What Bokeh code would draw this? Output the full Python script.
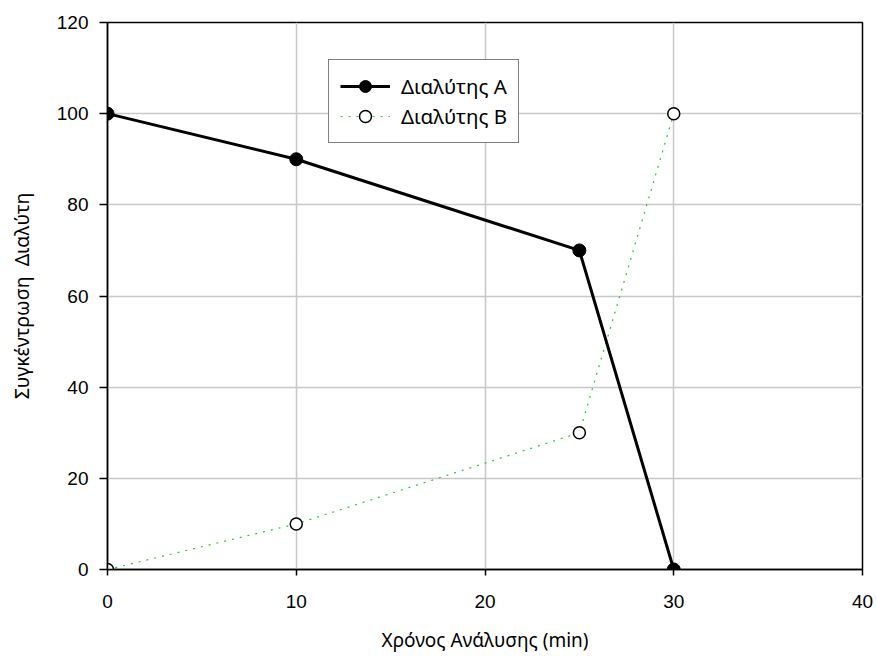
from bokeh.plotting import figure
from bokeh.models import Range1d, FixedTicker, Legend, LegendItem
from bokeh.embed import file_html
from bokeh.resources import INLINE

# Data
time_min = [0, 10, 25, 30]
solvent_a = [100, 90, 70, 0]
solvent_b = [0, 10, 30, 100]
x_ticks = [0, 10, 20, 30, 40]
y_ticks = [0, 20, 40, 60, 80, 100, 120]
label_a = "Διαλύτης A"
label_b = "Διαλύτης B"
x_title = "Χρόνος Ανάλυσης (min)"
y_title = "Συγκέντρωση\u00a0 Διαλύτη"

NUM_FONT = "Liberation Sans"
TXT_FONT = "Noto Sans"

p = figure(width=876, height=661, output_backend="svg", toolbar_location=None,
           x_range=Range1d(0, 40), y_range=Range1d(0, 120),
           min_border_left=107, min_border_right=14, min_border_top=22, min_border_bottom=92)
p.background_fill_color = "white"
p.border_fill_color = "white"
p.outline_line_color = "black"
p.outline_line_width = 1.5

for ax in (p.xaxis[0], p.yaxis[0]):
    ax.axis_line_color = "black"
    ax.axis_line_width = 1.5
    ax.major_tick_line_color = "black"
    ax.major_tick_line_width = 1.5
    ax.major_tick_in = 0
    ax.minor_tick_line_color = None
    ax.major_label_text_font = NUM_FONT
    ax.major_label_text_font_size = "19px"
    ax.major_label_text_color = "black"
    ax.axis_label_text_font = TXT_FONT
    ax.axis_label_text_font_style = "normal"
    ax.axis_label_text_color = "black"

p.xaxis[0].axis_label_text_font_size = "19px"
p.yaxis[0].axis_label_text_font_size = "19.5px"
p.xaxis[0].ticker = FixedTicker(ticks=x_ticks)
p.yaxis[0].ticker = FixedTicker(ticks=y_ticks)
p.xaxis[0].major_tick_out = 6
p.yaxis[0].major_tick_out = 8
p.xaxis[0].major_label_standoff = 19
p.yaxis[0].major_label_standoff = 11
p.xaxis[0].axis_label = x_title
p.yaxis[0].axis_label = y_title
p.xaxis[0].axis_label_standoff = 16
p.yaxis[0].axis_label_standoff = 19

p.xgrid[0].ticker = FixedTicker(ticks=x_ticks)
p.ygrid[0].ticker = FixedTicker(ticks=y_ticks)
for g in (p.xgrid[0], p.ygrid[0]):
    g.grid_line_color = "#c8c8c8"
    g.grid_line_width = 1.5

lb = p.line(time_min, solvent_b, line_color="#22cc22", line_width=1.2, line_dash="2 6")
sb = p.scatter(time_min, solvent_b, marker="circle", size=12, fill_color="white",
               line_color="black", line_width=1.5)
la = p.line(time_min, solvent_a, line_color="black", line_width=3)
sa = p.scatter(time_min, solvent_a, marker="circle", size=13, fill_color="black",
               line_color="black", line_width=1)

legend = Legend(items=[LegendItem(label=label_a, renderers=[la, sa]),
                       LegendItem(label=label_b, renderers=[lb, sb])],
                location=(221, 426))
legend.border_line_color = "black"
legend.border_line_width = 1.5
legend.background_fill_color = "white"
legend.background_fill_alpha = 1
legend.label_text_font = TXT_FONT
legend.label_text_font_size = "20.5px"
legend.label_text_color = "black"
legend.label_height = 24
legend.glyph_width = 50
legend.glyph_height = 30
legend.label_standoff = 11
legend.spacing = -5
legend.padding = 11
legend.margin = 0
p.add_layout(legend, "center")

open("out.html", "w").write(file_html(p, INLINE))
